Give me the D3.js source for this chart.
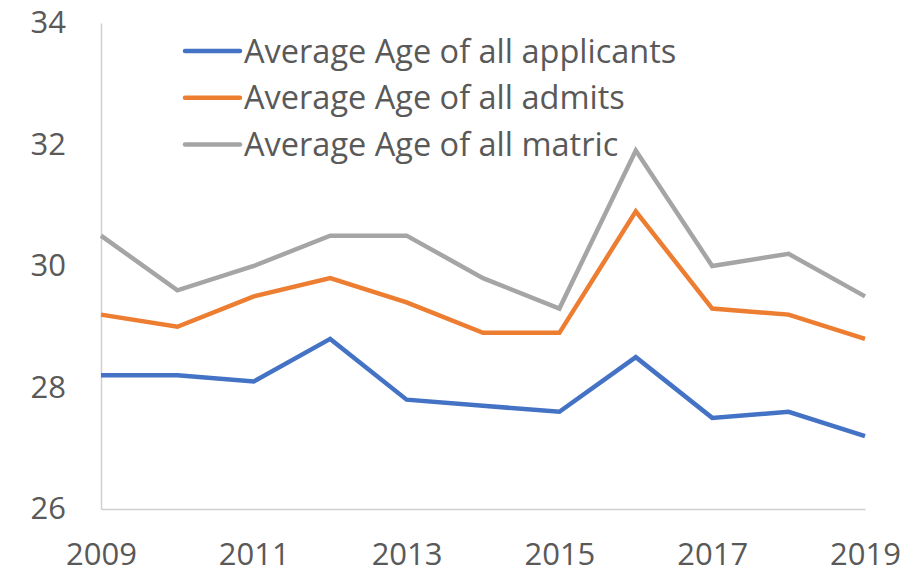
<!DOCTYPE html>
<html>
<head>
<meta charset="utf-8">
<script src="https://cdn.jsdelivr.net/npm/d3@7"></script>
<style>
  html, body { margin: 0; padding: 0; background: #fff; }
  svg { display: block; }
  text { font-family: "Open Sans", sans-serif; fill: #595959; }
</style>
</head>
<body>
<svg id="chart" width="919" height="575"></svg>
<script>
const years = [2009, 2010, 2011, 2012, 2013, 2014, 2015, 2016, 2017, 2018, 2019];
const applicants = [28.2, 28.2, 28.1, 28.8, 27.8, 27.7, 27.6, 28.5, 27.5, 27.6, 27.2];
const admits     = [29.2, 29.0, 29.5, 29.8, 29.4, 28.9, 28.9, 30.9, 29.3, 29.2, 28.8];
const matric     = [30.5, 29.6, 30.0, 30.5, 30.5, 29.8, 29.3, 31.9, 30.0, 30.2, 29.5];
const seriesNames = ["Average Age of all applicants", "Average Age of all admits", "Average Age of all matric"];
const seriesColors = ["#4472C4", "#ED7D31", "#A5A5A5"];
const xTicks = [2009, 2011, 2013, 2015, 2017, 2019];
const yTicks = [26, 28, 30, 32, 34];

const svg = d3.select("#chart");
const margin = { left: 101, right: 54, top: 23, bottom: 66 };
const W = 919, H = 575;
const FONT = "'Open Sans', sans-serif";

const x = d3.scaleLinear().domain([2009, 2019]).range([margin.left, W - margin.right]);
const y = d3.scaleLinear().domain([26, 34]).range([H - margin.bottom, margin.top]);

// Axes
const yAxis = svg.append("g")
  .attr("transform", `translate(${margin.left},0)`)
  .call(d3.axisLeft(y).tickValues(yTicks).tickSize(0).tickPadding(35).tickFormat(d3.format("d")));
yAxis.select(".domain").attr("stroke", "#D0D0D0").attr("stroke-width", 1.5);
yAxis.selectAll("text").attr("font-size", 31).attr("fill", "#595959").style("font-family", FONT);

const xAxis = svg.append("g")
  .attr("transform", `translate(0,${H - margin.bottom})`)
  .call(d3.axisBottom(x).tickValues(xTicks).tickSize(0).tickPadding(34).tickFormat(d3.format("d")));
xAxis.select(".domain").attr("stroke", "#D0D0D0").attr("stroke-width", 1.5);
xAxis.selectAll("text").attr("font-size", 31).attr("fill", "#595959").style("font-family", FONT);

// Lines
const allSeries = [applicants, admits, matric];
const line = d3.line().x((d, i) => x(years[i])).y(d => y(d));
[2, 1, 0].forEach(k => {
  svg.append("path")
    .datum(allSeries[k])
    .attr("fill", "none")
    .attr("stroke", seriesColors[k])
    .attr("stroke-width", 4.5)
    .attr("stroke-linejoin", "miter")
    .attr("stroke-linecap", "butt")
    .attr("d", line);
});

// Legend
const legend = svg.append("g").attr("transform", "translate(185,51)");
seriesNames.forEach((name, i) => {
  const g = legend.append("g").attr("transform", `translate(0,${i * 46.7})`);
  g.append("line").attr("x1", 0).attr("x2", 55).attr("y1", 0).attr("y2", 0)
    .attr("stroke", seriesColors[i]).attr("stroke-width", 4.5).attr("stroke-linecap", "round");
  g.append("text").attr("x", 59).attr("y", 11.5).attr("font-size", 32.5)
    .style("font-family", FONT).text(name);
});
</script>
</body>
</html>
